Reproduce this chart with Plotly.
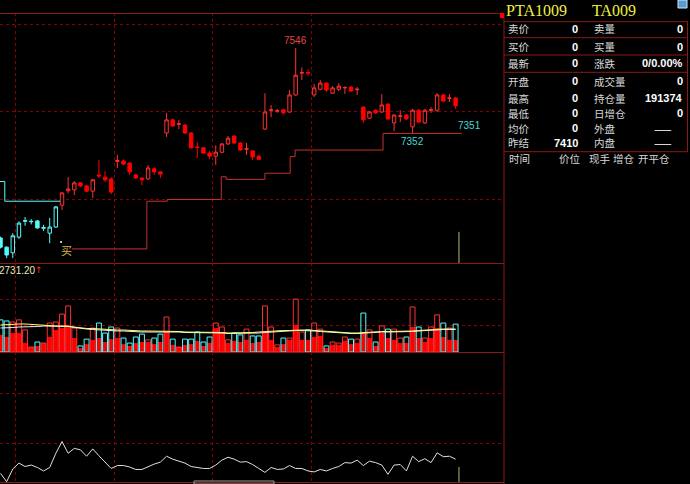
import plotly.graph_objects as go

# ---------------- data ----------------
bar_index = list(range(75))
opens = [7112, 7091, 7078, 7114, 7150, 7149, 7151, 7134, 7123, 7137,
         7187, 7220, 7222, 7238, 7231, 7219, 7256, 7251, 7247, 7287,
         7288, 7283, 7256, 7249, 7247, 7270, 7263, 7352, 7382, 7372,
         7370, 7352, 7320, 7318, 7306, 7299, 7308, 7327, 7345, 7329,
         7315, 7311, 7299, 7361, 7404, 7402, 7405, 7400, 7439, 7489,
         7490, 7439, 7452, 7466, 7443, 7452, 7455, 7457, 7451, 7411,
         7386, 7404, 7400, 7418, 7375, 7390, 7393, 7366, 7404, 7375,
         7404, 7404, 7439, 7431, 7432]
highs = [7115, 7093, 7123, 7150, 7160, 7155, 7153, 7142, 7158, 7185,
         7216, 7251, 7242, 7240, 7233, 7247, 7290, 7265, 7251, 7302,
         7292, 7286, 7258, 7251, 7279, 7274, 7265, 7398, 7385, 7382,
         7372, 7354, 7331, 7320, 7311, 7324, 7329, 7345, 7347, 7331,
         7329, 7313, 7302, 7443, 7416, 7407, 7407, 7450, 7546, 7502,
         7498, 7464, 7473, 7468, 7459, 7466, 7459, 7459, 7457, 7414,
         7402, 7406, 7441, 7420, 7395, 7404, 7395, 7407, 7407, 7407,
         7411, 7443, 7441, 7441, 7434]
lows = [7088, 7066, 7066, 7110, 7140, 7143, 7133, 7128, 7100, 7135,
        7176, 7214, 7210, 7228, 7217, 7203, 7249, 7240, 7212, 7272,
        7278, 7256, 7247, 7233, 7245, 7256, 7249, 7343, 7366, 7361,
        7350, 7316, 7295, 7304, 7292, 7279, 7306, 7325, 7327, 7311,
        7302, 7290, 7290, 7359, 7388, 7398, 7394, 7398, 7437, 7473,
        7482, 7434, 7450, 7445, 7441, 7448, 7441, 7446, 7439, 7375,
        7384, 7396, 7398, 7382, 7356, 7377, 7382, 7352, 7375, 7373,
        7398, 7400, 7423, 7423, 7407]
closes = [7091, 7073, 7117, 7146, 7152, 7150, 7135, 7136, 7137, 7183,
          7215, 7224, 7238, 7231, 7219, 7245, 7254, 7245, 7217, 7289,
          7281, 7263, 7249, 7245, 7272, 7263, 7258, 7382, 7368, 7373,
          7352, 7318, 7319, 7306, 7299, 7308, 7327, 7340, 7329, 7313,
          7316, 7297, 7292, 7400, 7405, 7403, 7398, 7439, 7484, 7490,
          7489, 7455, 7466, 7450, 7455, 7459, 7456, 7448, 7452, 7382,
          7400, 7398, 7416, 7384, 7393, 7391, 7384, 7404, 7377, 7404,
          7405, 7439, 7425, 7432, 7414]
sell_regime_bars = 10          # first bars drawn in cyan

stop_cyan_x = [-0.5, 0.7, 9.7]
stop_cyan_y = [7241, 7196, 7196]
stop_red_x = [11.6, 23.8, 27.1, 35.9, 36.7, 43.0, 47.1, 47.9, 62.2, 75.0]
stop_red_y = [7087, 7196, 7200, 7252, 7246, 7260, 7298, 7313, 7351, 7351]
signal_bar, signal_price = 9.85, 7103
buy_text_bar, buy_text_price = 10.8, 7085

volume = [1220, 1180, 1140, 1220, 840, 190, 380, 340, 1100, 1140,
          1440, 1750, 910, 230, 490, 910, 1100, 720, 950, 910,
          530, 340, 570, 680, 460, 530, 680, 1330, 490, 190,
          490, 490, 760, 380, 570, 1100, 950, 460, 720, 650,
          870, 610, 610, 1750, 950, 270, 530, 530, 2010, 760,
          840, 1100, 870, 230, 380, 340, 570, 490, 490, 1480,
          840, 380, 990, 870, 870, 530, 570, 1710, 950, 530,
          950, 1410, 1100, 910, 1060]
volume_inner = [650, 570, 720, 720, 340, 190, 230, 340, 570, 840,
                910, 950, 530, 150, 300, 460, 530, 380, 490, 530,
                300, 230, 340, 380, 380, 300, 380, 800, 270, 190,
                270, 300, 420, 230, 340, 910, 720, 340, 420, 380,
                460, 340, 380, 720, 460, 190, 300, 460, 1030, 460,
                460, 570, 610, 150, 270, 270, 420, 300, 340, 760,
                530, 230, 720, 530, 460, 340, 340, 950, 530, 380,
                530, 910, 570, 460, 460]
vol_ma_yellow = [1026, 1045, 1064, 1064, 1064, 1045, 1026, 1026, 1007, 988,
                 988, 988, 950, 912, 893, 893, 874, 874, 855, 836,
                 836, 817, 817, 798, 798, 798, 798, 798, 779, 779,
                 760, 760, 760, 760, 741, 741, 741, 722, 722, 722,
                 741, 741, 760, 779, 798, 817, 817, 817, 836, 836,
                 836, 817, 798, 779, 760, 741, 741, 722, 722, 741,
                 760, 779, 779, 779, 779, 779, 798, 798, 817, 836,
                 855, 874, 874, 874, 874]
vol_ma_white = [912, 912, 931, 950, 950, 969, 969, 988, 988, 988,
                969, 969, 931, 893, 874, 855, 836, 836, 817, 798,
                798, 779, 779, 760, 760, 760, 760, 779, 760, 760,
                741, 741, 741, 741, 722, 722, 722, 703, 703, 703,
                703, 703, 722, 741, 760, 779, 798, 798, 817, 817,
                817, 798, 779, 760, 741, 722, 722, 703, 703, 722,
                741, 760, 760, 760, 760, 760, 779, 779, 798, 817,
                836, 855, 855, 855, 855]
indicator = [38, 21, 47, 59, 52, 55, 50, 43, 50, 79,
             103, 79, 89, 86, 73, 88, 74, 62, 48, 54,
             54, 51, 46, 46, 52, 57, 61, 73, 67, 63,
             59, 52, 50, 48, 48, 55, 65, 71, 67, 61,
             62, 56, 48, 40, 50, 46, 47, 54, 48, 48,
             43, 41, 46, 43, 48, 52, 60, 59, 65, 54,
             63, 60, 55, 36, 55, 56, 43, 73, 62, 68,
             60, 80, 72, 73, 67]
cursor_bar = 74.55
cursor_price_top = 7126
cursor_ind_top = 51

grid_x = [2.5, 18.5, 34.5, 50.5]
price_grid = [7200, 7400, 7600]
volume_grid = [1000, 2000]
ind_grid = [100, 200]

high_label, low_label, stop_label = "7546", "7352", "7351"
vol_label = "2731.20"

left_labels = ["卖价", "买价", "最新", "开盘", "最高", "最低", "均价", "昨结"]
left_values = ["0", "0", "0", "0", "0", "0", "0", "7410"]
right_labels = ["卖量", "买量", "涨跌", "成交量", "持仓量", "日增仓", "外盘", "内盘"]
right_values = ["0", "0", "0/0.00%", "0", "191374", "0", "——", "——"]
footer_labels = ["时间", "价位", "现手", "增仓", "开平仓"]

# ---------------- style ----------------
W, H = 690, 484
CYAN = "#54FCFC"
RED = "#FF0000"
RED_LINE = "#FF3030"
GRID = "#8A0000"
BORDER = "#8C1818"
CJK = "Noto Sans CJK SC"

def px(x):
    return x / W

def py(y):
    return 1 - y / H

fig = go.Figure()

n_cyan = sell_regime_bars
fig.add_trace(go.Candlestick(
    x=bar_index[:n_cyan], open=opens[:n_cyan], high=highs[:n_cyan],
    low=lows[:n_cyan], close=closes[:n_cyan],
    increasing=dict(line=dict(color=CYAN, width=1), fillcolor="#000000"),
    decreasing=dict(line=dict(color=CYAN, width=1), fillcolor=CYAN),
    whiskerwidth=0, showlegend=False, hoverinfo="skip", xaxis="x", yaxis="y"))
fig.add_trace(go.Candlestick(
    x=bar_index[n_cyan:], open=opens[n_cyan:], high=highs[n_cyan:],
    low=lows[n_cyan:], close=closes[n_cyan:],
    increasing=dict(line=dict(color=RED_LINE, width=1), fillcolor="#000000"),
    decreasing=dict(line=dict(color=RED, width=1), fillcolor=RED),
    whiskerwidth=0, showlegend=False, hoverinfo="skip", xaxis="x", yaxis="y"))

fig.add_trace(go.Scatter(x=stop_cyan_x, y=stop_cyan_y, mode="lines", line_shape="hv",
                         line=dict(color=CYAN, width=1), showlegend=False,
                         hoverinfo="skip", xaxis="x", yaxis="y"))
fig.add_trace(go.Scatter(x=stop_red_x, y=stop_red_y, mode="lines", line_shape="hv",
                         line=dict(color="#C83030", width=1), showlegend=False,
                         hoverinfo="skip", xaxis="x", yaxis="y"))
fig.add_trace(go.Scatter(x=[signal_bar], y=[signal_price], mode="markers",
                         marker=dict(color="#FFFFFF", size=2), showlegend=False,
                         hoverinfo="skip", xaxis="x", yaxis="y"))
fig.add_trace(go.Scatter(x=[cursor_bar, cursor_bar], y=[cursor_price_top, 7000],
                         mode="lines", line=dict(color="#B8B870", width=1),
                         showlegend=False, hoverinfo="skip", xaxis="x", yaxis="y"))

# volume
vol_colors = [RED_LINE if c >= o else CYAN for o, c in zip(opens, closes)]
fig.add_trace(go.Bar(x=bar_index, y=volume_inner, width=0.8,
                     marker=dict(color=RED, line=dict(width=0)),
                     showlegend=False, hoverinfo="skip", xaxis="x2", yaxis="y2"))
fig.add_trace(go.Bar(x=bar_index, y=volume, width=0.8,
                     marker=dict(color="rgba(0,0,0,0)", line=dict(color=vol_colors, width=1)),
                     showlegend=False, hoverinfo="skip", xaxis="x2", yaxis="y2"))
fig.add_trace(go.Scatter(x=bar_index, y=vol_ma_white, mode="lines",
                         line=dict(color="#F0F0F0", width=1), showlegend=False,
                         hoverinfo="skip", xaxis="x2", yaxis="y2"))
fig.add_trace(go.Scatter(x=bar_index, y=vol_ma_yellow, mode="lines",
                         line=dict(color="#FFFF80", width=1), showlegend=False,
                         hoverinfo="skip", xaxis="x2", yaxis="y2"))

# indicator
fig.add_trace(go.Scatter(x=bar_index, y=indicator, mode="lines",
                         line=dict(color="#E0E0E0", width=1), showlegend=False,
                         hoverinfo="skip", xaxis="x3", yaxis="y3"))
fig.add_trace(go.Scatter(x=[cursor_bar, cursor_bar], y=[cursor_ind_top, 0],
                         mode="lines", line=dict(color="#B8B870", width=1),
                         showlegend=False, hoverinfo="skip", xaxis="x3", yaxis="y3"))

X0 = -0.5 / 6.15
X1 = X0 + 504 / 6.15
xdom = [0, px(504)]
xcommon = dict(range=[X0, X1], domain=xdom, showticklabels=False, ticks="",
               tickvals=grid_x, showgrid=True, gridcolor=GRID, griddash="dot",
               gridwidth=1, zeroline=False, showline=False, fixedrange=True)
ycommon = dict(showticklabels=False, ticks="", showgrid=True, gridcolor=GRID,
               griddash="dot", gridwidth=1, zeroline=False, showline=False,
               fixedrange=True)

fig.update_layout(
    width=W, height=H, margin=dict(l=0, r=0, t=0, b=0),
    paper_bgcolor="#000000", plot_bgcolor="#000000",
    barmode="overlay", boxgap=0.2, showlegend=False,
    xaxis=dict(**xcommon, anchor="y", rangeslider=dict(visible=False)),
    xaxis2=dict(**xcommon, anchor="y2"),
    xaxis3=dict(**xcommon, anchor="y3"),
    yaxis=dict(**ycommon, domain=[py(263), py(13)], range=[7054.8, 7626.3],
               tickvals=price_grid, anchor="x"),
    yaxis2=dict(**ycommon, domain=[py(352), py(263)], range=[0, 3382],
                tickvals=volume_grid, anchor="x2"),
    yaxis3=dict(**ycommon, domain=[py(482), py(352)], range=[20.4, 285.7],
                tickvals=ind_grid, anchor="x3"),
)

shapes = []
def hline(y, x0, x1, color=BORDER):
    shapes.append(dict(type="line", xref="paper", yref="paper", x0=px(x0), x1=px(x1),
                       y0=py(y), y1=py(y), line=dict(color=color, width=1)))
def vline(x, y0, y1, color=BORDER):
    shapes.append(dict(type="line", xref="paper", yref="paper", x0=px(x), x1=px(x),
                       y0=py(y0), y1=py(y1), line=dict(color=color, width=1)))

for yb in [13.5, 263.5, 352.5, 482.5]:
    hline(yb, 0, 504)
vline(504, 13, 484)
for yb in [21.7, 37.7, 55, 72.3, 151.7]:
    hline(yb, 504, 688)
vline(687.5, 21.7, 151.7)
shapes.append(dict(type="rect", xref="paper", yref="paper", x0=px(500), x1=px(504),
                   y0=py(18), y1=py(13), fillcolor="#FF0000", line=dict(width=0)))
shapes.append(dict(type="rect", xref="paper", yref="paper", x0=px(678), x1=px(687),
                   y0=py(8), y1=py(0), fillcolor="#5A9AD0", line=dict(color="#C8E8F8", width=1)))
shapes.append(dict(type="rect", xref="paper", yref="paper", x0=px(194), x1=px(274),
                   y0=py(484), y1=py(481), fillcolor="rgba(0,0,0,0)",
                   line=dict(color="#A0A0A0", width=1)))
fig.update_layout(shapes=shapes)

ann = []
def ptext(x, y, text, color, size, xanchor="left", family=CJK):
    ann.append(dict(x=px(x), y=py(y), xref="paper", yref="paper", text=text,
                    showarrow=False, xanchor=xanchor, yanchor="middle",
                    font=dict(color=color, size=size, family=family)))

# chart labels in data coordinates
ann.append(dict(x=48, y=highs[48], xref="x", yref="y", text=high_label, showarrow=False,
                xanchor="center", yanchor="bottom", yshift=0,
                font=dict(color="#E04848", size=10, family="Liberation Sans")))
ann.append(dict(x=67, y=lows[67], xref="x", yref="y", text=low_label, showarrow=False,
                xanchor="center", yanchor="top", yshift=-1,
                font=dict(color="#40D8D8", size=10, family="Liberation Sans")))
ann.append(dict(x=stop_red_x[-2] + 11.85, y=stop_red_y[-1], xref="x", yref="y",
                text=stop_label, showarrow=False, xanchor="left", yanchor="bottom",
                font=dict(color="#40D8D8", size=10, family="Liberation Sans")))
ann.append(dict(x=buy_text_bar, y=buy_text_price, xref="x", yref="y", text="买",
                showarrow=False, xanchor="center", yanchor="middle",
                font=dict(color="#D8B048", size=11, family=CJK)))

ptext(-3, 270, vol_label, "#E8E8C0", 10, family="Liberation Sans")
ptext(33, 270, "↑", "#FF3030", 9, family="DejaVu Sans")

# right panel
ptext(504, 10, "PTA1009", "#F0F040", 16, family="Liberation Serif")
ptext(590, 10, "TA009", "#F0F040", 16, family="Liberation Serif")
row_y = [29, 47, 63, 81, 98, 113, 128, 143]
for i, yrow in enumerate(row_y):
    ptext(506, yrow, left_labels[i], "#D8D8D8", 10.5)
    ptext(580, yrow, "<b>%s</b>" % left_values[i], "#FFFFFF", 11, xanchor="right",
          family="Liberation Sans")
    ptext(592, yrow, right_labels[i], "#D8D8D8", 10.5)
    if right_values[i] == "——":
        ptext(663, yrow, right_values[i], "#FFFFFF", 10.5, xanchor="center")
    else:
        ptext(685, yrow, "<b>%s</b>" % right_values[i], "#FFFFFF", 11, xanchor="right",
              family="Liberation Sans")
for xl, lab in zip([507, 557, 587, 611, 636], footer_labels):
    ptext(xl, 158, lab, "#D8D8D8", 10.5)

fig.update_layout(annotations=ann)
fig.write_html("out.html", config={"displayModeBar": False},
               post_script="document.body.style.margin='0';")
